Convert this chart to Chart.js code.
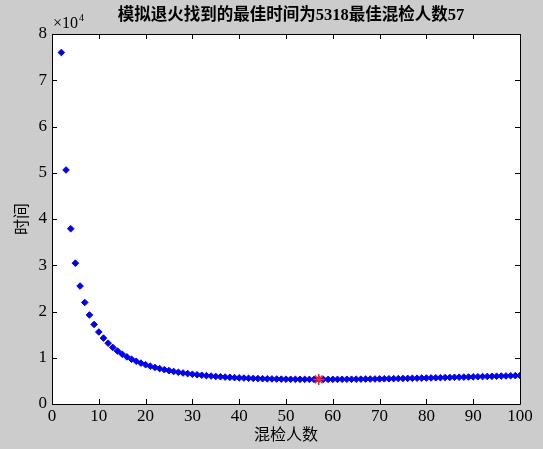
<!DOCTYPE html>
<html>
<head>
<meta charset="utf-8">
<script src="https://cdn.jsdelivr.net/npm/chart.js@4/dist/chart.umd.min.js"></script>
<style>
html,body{margin:0;padding:0;background:#cccccc;}
#c{display:block;}
</style>
</head>
<body>
<canvas id="c" width="543" height="449"></canvas>
<script>
// group sizes (混检人数)
const groupSizes = [2,3,4,5,6,7,8,9,10,11,12,13,14,15,16,17,18,19,20,21,22,23,24,25,26,27,28,29,30,31,32,33,34,35,36,37,38,39,40,41,42,43,44,45,46,47,48,49,50,51,52,53,54,55,56,57,58,59,60,61,62,63,64,65,66,67,68,69,70,71,72,73,74,75,76,77,78,79,80,81,82,83,84,85,86,87,88,89,90,91,92,93,94,95,96,97,98,99,100];
// time (时间)
const times = [76000,50600,37900,30450,25500,21950,19250,17200,15570,14250,13150,12230,11450,10770,10190,9680,9240,8840,8500,8180,7900,7650,7420,7220,7030,6860,6710,6570,6440,6330,6220,6130,6040,5960,5890,5820,5760,5700,5650,5610,5570,5530,5500,5470,5440,5420,5400,5380,5360,5350,5340,5330,5330,5320,5320,5318,5320,5320,5330,5330,5340,5350,5350,5360,5380,5390,5400,5410,5430,5450,5460,5480,5500,5520,5540,5560,5580,5600,5620,5640,5670,5690,5720,5740,5770,5790,5820,5840,5870,5900,5930,5960,5980,6010,6040,6070,6100,6130,6160];
const bestSize = [57];
const bestTime = [5318];
const xTicks = [0,10,20,30,40,50,60,70,80,90,100];
const yTicks = [0,1,2,3,4,5,6,7,8];
const titleText = '模拟退火找到的最佳时间为5318最佳混检人数57';

const serif = '"Liberation Serif", "Noto Sans CJK SC", serif';

const boxPlugin = {
  id: 'matlabBox',
  beforeDraw(chart) {
    const {ctx, chartArea: a} = chart;
    ctx.save();
    ctx.fillStyle = '#cccccc';
    ctx.fillRect(0, 0, chart.width, chart.height);
    ctx.fillStyle = '#ffffff';
    ctx.fillRect(a.left, a.top, a.right - a.left, a.bottom - a.top);
    ctx.restore();
  },
  afterDatasetsDraw(chart) {
    const {ctx, chartArea: a, scales} = chart;
    ctx.save();
    ctx.strokeStyle = '#000000';
    ctx.lineWidth = 1;
    ctx.beginPath();
    ctx.rect(Math.round(a.left) + 0.5, Math.round(a.top) + 0.5, Math.round(a.right - a.left), Math.round(a.bottom - a.top));
    ctx.stroke();
    const L = 5;
    ctx.beginPath();
    xTicks.forEach(v => {
      const px = Math.round(scales.x.getPixelForValue(v)) + 0.5;
      ctx.moveTo(px, a.bottom); ctx.lineTo(px, a.bottom - L);
      ctx.moveTo(px, a.top); ctx.lineTo(px, a.top + L);
    });
    yTicks.forEach(v => {
      const py = Math.round(scales.y.getPixelForValue(v * 10000)) + 0.5;
      ctx.moveTo(a.left, py); ctx.lineTo(a.left + L, py);
      ctx.moveTo(a.right, py); ctx.lineTo(a.right - L, py);
    });
    ctx.stroke();
    // title
    ctx.fillStyle = '#000000';
    ctx.font = 'bold 16.5px ' + serif;
    ctx.textAlign = 'center';
    ctx.textBaseline = 'middle';
    ctx.fillText(titleText, 291, 16);
    // exponent label
    ctx.textAlign = 'left';
    ctx.textBaseline = 'alphabetic';
    ctx.font = '16px ' + serif;
    ctx.fillText('×10', 53, 28);
    const w = ctx.measureText('×10').width;
    ctx.font = '10px ' + serif;
    ctx.fillText('4', 53 + w + 1, 21);
    ctx.restore();
  }
};

new Chart(document.getElementById('c'), {
  type: 'scatter',
  data: {
    datasets: [
      {
        label: 'best',
        data: bestSize.map((x, i) => ({x, y: bestTime[i]})),
        pointStyle: 'star',
        radius: 5.5,
        borderColor: '#ff2020',
        backgroundColor: '#ff2020',
        borderWidth: 1.5,
        order: 0
      },
      {
        label: 'times',
        data: groupSizes.map((x, i) => ({x, y: times[i]})),
        pointStyle: 'rectRot',
        radius: 3.3,
        borderColor: '#0000ff',
        backgroundColor: '#0000ff',
        borderWidth: 1,
        order: 1
      }
    ]
  },
  options: {
    responsive: false,
    animation: false,
    events: [],
    layout: {padding: {top: 34, right: 23, left: 0, bottom: 0}},
    plugins: {legend: {display: false}, tooltip: {enabled: false}, title: {display: false}},
    scales: {
      x: {
        type: 'linear', min: 0, max: 100,
        afterFit(s) { s.height = 45; },
        afterBuildTicks(s) { s.ticks = xTicks.map(v => ({value: v})); },
        grid: {display: false, drawTicks: false},
        border: {display: false},
        ticks: {color: '#000', font: {family: serif, size: 17, lineHeight: 1.2}, padding: 2, maxRotation: 0, autoSkip: false},
        title: {display: true, text: '混检人数', color: '#000', font: {family: serif, size: 16, lineHeight: 1.2}, padding: {top: 0, bottom: 4}}
      },
      y: {
        type: 'linear', min: 0, max: 80000,
        afterFit(s) { s.width = 52; },
        afterBuildTicks(s) { s.ticks = yTicks.map(v => ({value: v * 10000})); },
        grid: {display: false, drawTicks: false},
        border: {display: false},
        ticks: {color: '#000', font: {family: serif, size: 17, lineHeight: 1.2}, padding: 5, autoSkip: false,
          callback: v => String(v / 10000)},
        title: {display: true, text: '时间', color: '#000', font: {family: serif, size: 16, lineHeight: 1.2}, padding: {top: 13, bottom: 0}}
      }
    }
  },
  plugins: [boxPlugin]
});
</script>
</body>
</html>
